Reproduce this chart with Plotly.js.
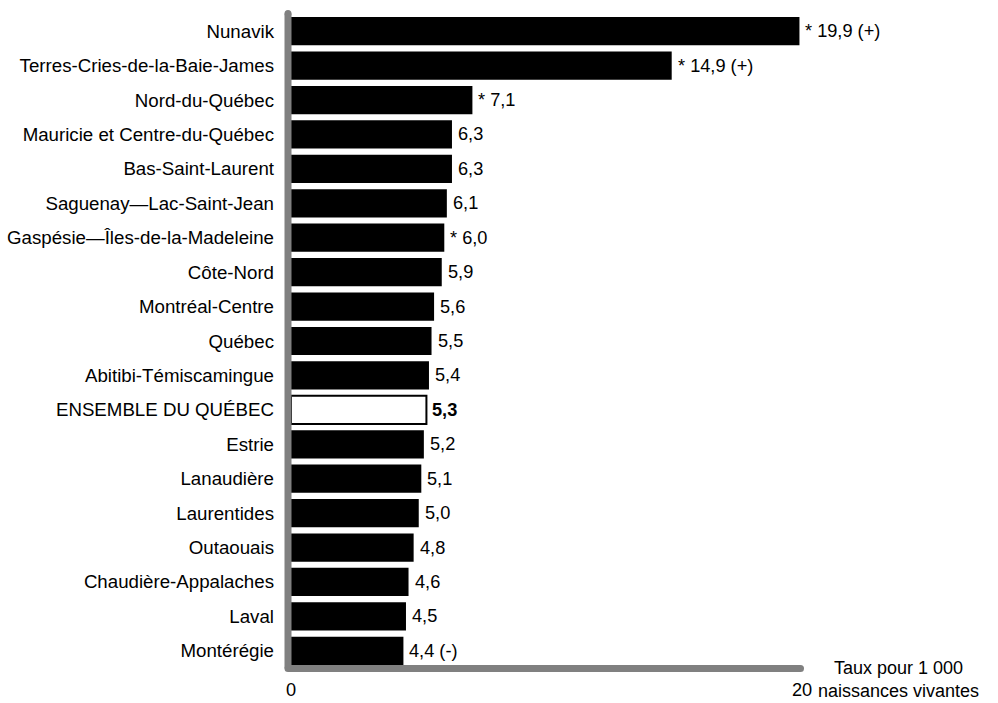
<!DOCTYPE html>
<html>
<head>
<meta charset="utf-8">
<script src="https://cdn.plot.ly/plotly-3.0.1.min.js"></script>
<style>
  html, body { margin: 0; padding: 0; background: #ffffff; }
  #chart { width: 998px; height: 703px; }
</style>
</head>
<body>
<div id="chart"></div>
<script>
// ---- Data ----
const regions = [
  "Nunavik",
  "Terres-Cries-de-la-Baie-James",
  "Nord-du-Québec",
  "Mauricie et Centre-du-Québec",
  "Bas-Saint-Laurent",
  "Saguenay—Lac-Saint-Jean",
  "Gaspésie—Îles-de-la-Madeleine",
  "Côte-Nord",
  "Montréal-Centre",
  "Québec",
  "Abitibi-Témiscamingue",
  "ENSEMBLE DU QUÉBEC",
  "Estrie",
  "Lanaudière",
  "Laurentides",
  "Outaouais",
  "Chaudière-Appalaches",
  "Laval",
  "Montérégie"
];
const rates = [19.9, 14.9, 7.1, 6.3, 6.3, 6.1, 6.0, 5.9, 5.6, 5.5, 5.4, 5.3, 5.2, 5.1, 5.0, 4.8, 4.6, 4.5, 4.4];
const prefixes = ["* ", "* ", "* ", "", "", "", "* ", "", "", "", "", "", "", "", "", "", "", "", ""];
const suffixes = [" (+)", " (+)", "", "", "", "", "", "", "", "", "", "", "", "", "", "", "", "", " (-)"];
const totalLabel = "ENSEMBLE DU QUÉBEC";
const xTickVals = [0, 20];
const xTickText = ["0", "20"];
const xTitle = "Taux pour 1 000<br>naissances vivantes";

// ---- Styling ----
const FONT = "Liberation Sans, Arial, sans-serif";
const FS = 18.2;      // value labels / x ticks
const FS_CAT = 18.7;  // category labels
const FS_TITLE = 18.0;
const GRAY = "#808080";

const fmt = v => v.toFixed(1).replace(".", ",");
const isTotal = regions.map(r => r === totalLabel);

const barColors = isTotal.map(t => t ? "#ffffff" : "#000000");
const lineWidths = isTotal.map(t => t ? 2 : 0);

const trace = {
  type: "bar",
  orientation: "h",
  x: rates,
  y: regions,
  marker: {
    color: barColors,
    line: { color: "#000000", width: lineWidths }
  },
  hoverinfo: "skip",
  cliponaxis: false
};

const annotations = regions.map((r, i) => {
  const txt = prefixes[i] + fmt(rates[i]) + suffixes[i];
  return {
    x: rates[i], y: r, xref: "x", yref: "y",
    text: isTotal[i] ? "<b>" + txt + "</b>" : txt,
    showarrow: false, xanchor: "left", yanchor: "middle",
    xshift: 4,
    font: { family: FONT, size: FS, color: "#000000" }
  };
});

// plot area: left 291px, right 802px (width 511), top 14px, bottom 668px (height 654)
const L = 291, R = 802, T = 14, B = 668;
const px2x = p => (p - L) / (R - L);
const px2y = p => (B - p) / (B - T);

annotations.push({
  x: px2x(898), y: px2y(679.5), xref: "paper", yref: "paper",
  text: xTitle, showarrow: false, xanchor: "center", yanchor: "middle",
  font: { family: FONT, size: FS_TITLE, color: "#000000" }
});

const axX = 288, axY = 668.5, axTop = 13.5, axRight = 800.5;
const shapes = [
  { type: "line", xref: "paper", yref: "paper",
    x0: px2x(axX), x1: px2x(axX), y0: px2y(axY), y1: px2y(axTop),
    line: { color: GRAY, width: 7 } },
  { type: "line", xref: "paper", yref: "paper",
    x0: px2x(axX), x1: px2x(axRight), y0: px2y(axY), y1: px2y(axY),
    line: { color: GRAY, width: 7 } },
  // rounded caps
  { type: "circle", xref: "paper", yref: "paper", xsizemode: "pixel", ysizemode: "pixel",
    xanchor: px2x(axX), yanchor: px2y(axTop), x0: -3.5, x1: 3.5, y0: -3.5, y1: 3.5,
    fillcolor: GRAY, line: { width: 0 } },
  { type: "circle", xref: "paper", yref: "paper", xsizemode: "pixel", ysizemode: "pixel",
    xanchor: px2x(axRight), yanchor: px2y(axY), x0: -3.5, x1: 3.5, y0: -3.5, y1: 3.5,
    fillcolor: GRAY, line: { width: 0 } },
  { type: "circle", xref: "paper", yref: "paper", xsizemode: "pixel", ysizemode: "pixel",
    xanchor: px2x(axX), yanchor: px2y(axY), x0: -3.5, x1: 3.5, y0: -3.5, y1: 3.5,
    fillcolor: GRAY, line: { width: 0 } }
];

const layout = {
  width: 998, height: 703,
  margin: { l: L, r: 998 - R, t: T, b: 703 - B, pad: 0 },
  paper_bgcolor: "#ffffff",
  plot_bgcolor: "#ffffff",
  showlegend: false,
  bargap: 0.18,
  font: { family: FONT, size: FS, color: "#000000" },
  xaxis: {
    range: [0, 20],
    tickvals: xTickVals, ticktext: xTickText,
    showgrid: false, zeroline: false, showline: false,
    ticks: "", ticklabelstandoff: 9,
    tickfont: { family: FONT, size: FS, color: "#000000" },
    fixedrange: true
  },
  yaxis: {
    type: "category",
    categoryorder: "array", categoryarray: regions,
    range: [regions.length - 0.5, -0.5],
    showgrid: false, zeroline: false, showline: false,
    ticks: "", ticklabelstandoff: 16,
    tickfont: { family: FONT, size: FS_CAT, color: "#000000" },
    fixedrange: true
  },
  annotations: annotations,
  shapes: shapes
};

Plotly.newPlot("chart", [trace], layout, { displayModeBar: false, staticPlot: true });
</script>
</body>
</html>
